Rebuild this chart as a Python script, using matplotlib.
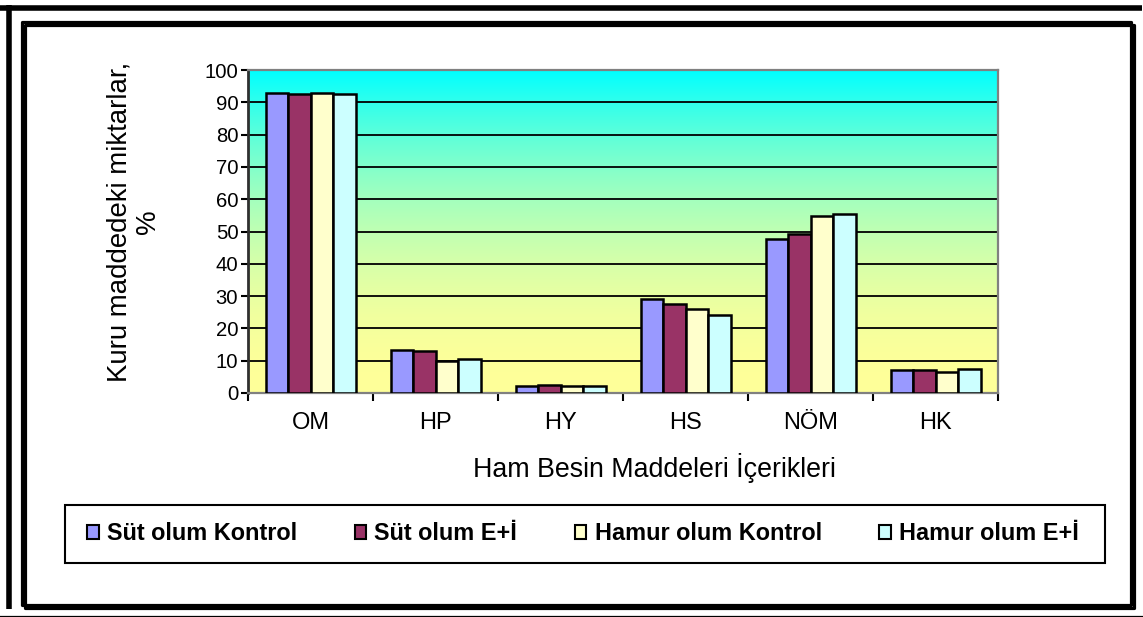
import numpy as np
import matplotlib
matplotlib.use("Agg")
import matplotlib.pyplot as plt
from matplotlib.patches import Rectangle, Patch
from matplotlib.lines import Line2D

# Crude nutrient contents on a dry-matter basis (%)
categories = ["OM", "HP", "HY", "HS", "NÖM", "HK"]
series_names = ["Süt olum Kontrol", "Süt olum E+İ", "Hamur olum Kontrol", "Hamur olum E+İ"]
sut_kontrol = [92.8, 13.4, 2.3, 29.2, 47.6, 7.0]
sut_ei = [92.7, 13.0, 2.5, 27.6, 49.3, 7.2]
hamur_kontrol = [93.0, 10.0, 2.1, 26.1, 54.7, 6.6]
hamur_ei = [92.6, 10.4, 2.1, 24.3, 55.3, 7.3]
y_ticks = [0, 10, 20, 30, 40, 50, 60, 70, 80, 90, 100]

series = [sut_kontrol, sut_ei, hamur_kontrol, hamur_ei]
colors = ["#9999FF", "#993366", "#FFFFCC", "#CCFFFF"]

plt.rcParams['font.family'] = ['Liberation Sans', 'DejaVu Sans']

W, H = 1143, 617
fig = plt.figure(figsize=(W / 100, H / 100), dpi=100)


def fx(px):
    return px / W


def fy(py):
    return 1 - py / H


# page frame lines
fig.add_artist(Line2D([fx(0), fx(1142)], [fy(7.5), fy(7.5)], lw=4, color="black",
                      solid_capstyle="butt"))
fig.add_artist(Line2D([fx(8.5), fx(8.5)], [fy(5), fy(609)], lw=4, color="black",
                      solid_capstyle="butt"))
fig.add_artist(Line2D([0, 1], [fy(616), fy(616)], lw=0.9, color="black"))

# chart area border with a small drop shadow
for off in (2.5, 0):
    fig.add_artist(Rectangle((fx(22 + off), fy(605 + off)), fx(1109), fy(22) - fy(605),
                             transform=fig.transFigure, fill=False, lw=2.3,
                             edgecolor="black", joinstyle="round"))

# plot area
ax = fig.add_axes([fx(248), fy(393), fx(998) - fx(248), fy(70) - fy(393)])

# vertical background gradient: pale yellow at bottom to cyan at top
t = np.linspace(0, 1, 400)[:, None]
f = t ** 2.0
bottom = np.array([255, 255, 153]) / 255
top = np.array([0, 255, 255]) / 255
grad = bottom[None, None, :] * (1 - f[..., None]) + top[None, None, :] * f[..., None]
ax.imshow(grad, extent=[-0.5, len(categories) - 0.5, 0, 100], origin="lower",
          aspect="auto", zorder=0, interpolation="bilinear")

x = np.arange(len(categories))
bw = 0.18
for i, (vals, col) in enumerate(zip(series, colors)):
    ax.bar(x + (i - 1.5) * bw, vals, width=bw, color=col, edgecolor="black",
           linewidth=1.8, zorder=3, label=series_names[i])

ax.set_xlim(-0.5, len(categories) - 0.5)
ax.set_ylim(0, 100)
ax.set_yticks(y_ticks)
ax.set_yticklabels([str(v) for v in y_ticks], fontsize=14.6)
ax.yaxis.grid(True, color="black", linewidth=1.3, zorder=1)
ax.set_axisbelow(True)

ax.set_xticks(x)
ax.set_xticklabels(categories, fontsize=17)
ax.tick_params(axis="x", which="major", length=0, pad=14)
ax.set_xticks(np.arange(-0.5, len(categories), 1.0), minor=True)
ax.tick_params(axis="x", which="minor", length=6, width=1.5, direction="out", color="black")
ax.tick_params(axis="y", length=5, width=1.5, direction="out", color="black", pad=2)

for side in ["top", "right", "bottom"]:
    ax.spines[side].set_color("#808080")
    ax.spines[side].set_linewidth(1.6)
ax.spines["left"].set_color("#303030")
ax.spines["left"].set_linewidth(2)

ax.set_xlabel("Ham Besin Maddeleri İçerikleri", fontsize=19.3)
ax.xaxis.label.set_va("baseline")
ax.xaxis.set_label_coords((654 - 248) / 750, -(477 - 393) / 323)

ax.set_ylabel("Kuru maddedeki miktarlar,\n%", fontsize=19.9, linespacing=1.15)
ax.yaxis.label.set_va("center")
ax.yaxis.set_label_coords((134 - 248) / 750, 0.53)

# legend entries plus a fixed-size frame around them
handles = [Patch(facecolor=c, edgecolor="black", linewidth=1.5) for c in colors]
leg = fig.legend(handles, series_names, loc="center",
                 bbox_to_anchor=(fx(583), fy(534)),
                 ncol=4, frameon=False,
                 prop=dict(weight="bold", size=16.9), handlelength=0.5,
                 handleheight=0.5, handletextpad=0.35, columnspacing=2.44,
                 borderpad=0, borderaxespad=0)
fig.add_artist(Rectangle((fx(65), fy(563)), fx(1105) - fx(65), fy(505) - fy(563),
                         transform=fig.transFigure, fill=False, lw=1.5,
                         edgecolor="black"))

fig.savefig("out.png", dpi=100, facecolor="white")
